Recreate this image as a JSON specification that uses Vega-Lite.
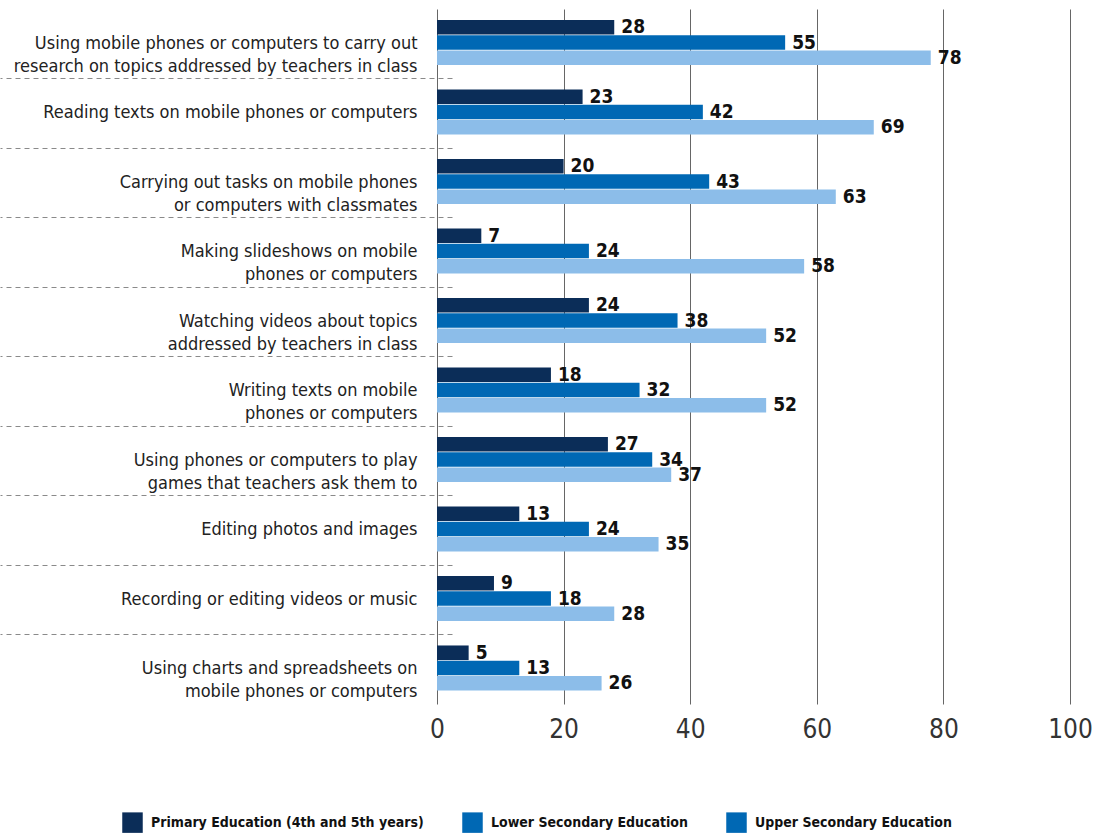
{
  "$schema": "https://vega.github.io/schema/vega-lite/v6.json",
  "width": 633,
  "height": 695,
  "autosize": {"type": "none"},
  "padding": {"left": 437, "top": 9, "right": 32, "bottom": 130},
  "background": "white",
  "config": {
    "view": {"stroke": null},
    "font": "Liberation Sans Narrow, DejaVu Sans Condensed, sans-serif"
  },
  "data": {
    "values": [
      {"activity": "Using mobile phones or computers to carry out|research on topics addressed by teachers in class", "level": "Primary Education (4th and 5th years)", "pct": 28},
      {"activity": "Using mobile phones or computers to carry out|research on topics addressed by teachers in class", "level": "Lower Secondary Education", "pct": 55},
      {"activity": "Using mobile phones or computers to carry out|research on topics addressed by teachers in class", "level": "Upper Secondary Education", "pct": 78},
      {"activity": "Reading texts on mobile phones or computers", "level": "Primary Education (4th and 5th years)", "pct": 23},
      {"activity": "Reading texts on mobile phones or computers", "level": "Lower Secondary Education", "pct": 42},
      {"activity": "Reading texts on mobile phones or computers", "level": "Upper Secondary Education", "pct": 69},
      {"activity": "Carrying out tasks on mobile phones|or computers with classmates", "level": "Primary Education (4th and 5th years)", "pct": 20},
      {"activity": "Carrying out tasks on mobile phones|or computers with classmates", "level": "Lower Secondary Education", "pct": 43},
      {"activity": "Carrying out tasks on mobile phones|or computers with classmates", "level": "Upper Secondary Education", "pct": 63},
      {"activity": "Making slideshows on mobile|phones or computers", "level": "Primary Education (4th and 5th years)", "pct": 7},
      {"activity": "Making slideshows on mobile|phones or computers", "level": "Lower Secondary Education", "pct": 24},
      {"activity": "Making slideshows on mobile|phones or computers", "level": "Upper Secondary Education", "pct": 58},
      {"activity": "Watching videos about topics|addressed by teachers in class", "level": "Primary Education (4th and 5th years)", "pct": 24},
      {"activity": "Watching videos about topics|addressed by teachers in class", "level": "Lower Secondary Education", "pct": 38},
      {"activity": "Watching videos about topics|addressed by teachers in class", "level": "Upper Secondary Education", "pct": 52},
      {"activity": "Writing texts on mobile|phones or computers", "level": "Primary Education (4th and 5th years)", "pct": 18},
      {"activity": "Writing texts on mobile|phones or computers", "level": "Lower Secondary Education", "pct": 32},
      {"activity": "Writing texts on mobile|phones or computers", "level": "Upper Secondary Education", "pct": 52},
      {"activity": "Using phones or computers to play|games that teachers ask them to", "level": "Primary Education (4th and 5th years)", "pct": 27},
      {"activity": "Using phones or computers to play|games that teachers ask them to", "level": "Lower Secondary Education", "pct": 34},
      {"activity": "Using phones or computers to play|games that teachers ask them to", "level": "Upper Secondary Education", "pct": 37},
      {"activity": "Editing photos and images", "level": "Primary Education (4th and 5th years)", "pct": 13},
      {"activity": "Editing photos and images", "level": "Lower Secondary Education", "pct": 24},
      {"activity": "Editing photos and images", "level": "Upper Secondary Education", "pct": 35},
      {"activity": "Recording or editing videos or music", "level": "Primary Education (4th and 5th years)", "pct": 9},
      {"activity": "Recording or editing videos or music", "level": "Lower Secondary Education", "pct": 18},
      {"activity": "Recording or editing videos or music", "level": "Upper Secondary Education", "pct": 28},
      {"activity": "Using charts and spreadsheets on|mobile phones or computers", "level": "Primary Education (4th and 5th years)", "pct": 5},
      {"activity": "Using charts and spreadsheets on|mobile phones or computers", "level": "Lower Secondary Education", "pct": 13},
      {"activity": "Using charts and spreadsheets on|mobile phones or computers", "level": "Upper Secondary Education", "pct": 26}
    ]
  },
  "encoding": {
    "y": {
      "field": "activity",
      "type": "nominal",
      "sort": null,
      "title": null,
      "scale": {"paddingInner": 0, "paddingOuter": 0},
      "axis": {
        "domain": false,
        "grid": false,
        "bandPosition": 0,
        "offset": -15,
        "tickSize": 452,
        "tickColor": "#8a8a8a",
        "tickWidth": 1,
        "tickDash": [5, 4],
        "tickOpacity": {"condition": {"test": "datum.index === 0", "value": 0}, "value": 1},
        "labelPadding": -417,
        "labelExpr": "split(datum.label, '|')",
        "labelFontSize": 18,
        "labelLineHeight": 23,
        "labelColor": "#222222",
        "labelLimit": 600,
        "labelAlign": "right",
        "labelBaseline": "middle"
      }
    },
    "yOffset": {
      "field": "level",
      "type": "nominal",
      "sort": ["Primary Education (4th and 5th years)", "Lower Secondary Education", "Upper Secondary Education"],
      "scale": {"paddingOuter": 0.8, "paddingInner": 0.04, "align": 0.45}
    },
    "x": {
      "field": "pct",
      "type": "quantitative",
      "title": null,
      "scale": {"domain": [0, 100], "nice": false},
      "axis": {
        "values": [0, 20, 40, 60, 80, 100],
        "domain": false,
        "ticks": false,
        "grid": true,
        "gridColor": "#666666",
        "gridWidth": 1,
        "labelFontSize": 26,
        "labelColor": "#333333",
        "labelPadding": 12,
        "labelFlush": false
      }
    }
  },
  "layer": [
    {
      "mark": {"type": "bar"},
      "encoding": {
        "color": {
          "condition": {"test": "datum.level === 'Upper Secondary Education'", "value": "#8cbde9"},
          "field": "level",
          "type": "nominal",
          "scale": {
            "domain": ["Primary Education (4th and 5th years)", "Lower Secondary Education", "Upper Secondary Education"],
            "range": ["#0b2d58", "#0068b4", "#0068b4"]
          },
          "legend": {
            "title": null,
            "orient": "none",
            "direction": "horizontal",
            "legendX": -315,
            "legendY": 803,
            "symbolType": "square",
            "symbolSize": 420,
            "symbolStrokeWidth": 0,
            "symbolOpacity": 1,
            "labelFontSize": 14,
            "labelFontWeight": "bold",
            "labelColor": "#111111",
            "labelOffset": 8,
            "columnPadding": 38,
            "labelLimit": 400
          }
        }
      }
    },
    {
      "mark": {"type": "text", "align": "left", "baseline": "middle", "dx": 7, "fontSize": 19, "fontWeight": "bold", "color": "#111111"},
      "encoding": {
        "text": {"field": "pct", "type": "quantitative"}
      }
    }
  ]
}
